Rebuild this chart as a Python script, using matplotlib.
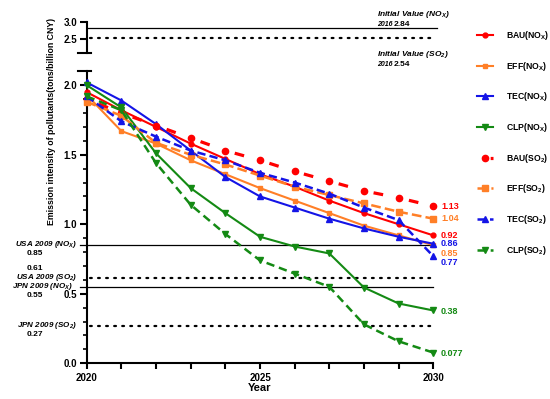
import matplotlib
matplotlib.use('Agg')
import matplotlib.pyplot as plt
from matplotlib.lines import Line2D
from matplotlib.ticker import MultipleLocator

plt.rcParams['font.family'] = ['Liberation Sans', 'DejaVu Sans']
plt.rcParams['font.weight'] = 'bold'
plt.rcParams['mathtext.default'] = 'regular'
plt.rcParams['lines.scale_dashes'] = False

# data
years = list(range(2020, 2031))
bau_nox = [1.95, 1.82, 1.70, 1.58, 1.47, 1.36, 1.27, 1.17, 1.08, 1.00, 0.92]
eff_nox = [1.93, 1.67, 1.58, 1.46, 1.36, 1.26, 1.17, 1.08, 0.99, 0.92, 0.85]
tec_nox = [2.02, 1.89, 1.72, 1.53, 1.34, 1.20, 1.12, 1.04, 0.97, 0.91, 0.86]
clp_nox = [2.00, 1.84, 1.51, 1.26, 1.08, 0.91, 0.84, 0.79, 0.545, 0.43, 0.38]
bau_so2 = [1.90, 1.80, 1.71, 1.62, 1.53, 1.46, 1.38, 1.31, 1.24, 1.19, 1.13]
eff_so2 = [1.88, 1.78, 1.585, 1.50, 1.43, 1.35, 1.27, 1.21, 1.15, 1.09, 1.04]
tec_so2 = [1.92, 1.74, 1.63, 1.53, 1.46, 1.37, 1.30, 1.22, 1.12, 1.03, 0.77]
clp_so2 = [1.92, 1.82, 1.44, 1.14, 0.93, 0.74, 0.645, 0.55, 0.28, 0.158, 0.077]

series_names = ['BAU(NO$_X$)', 'EFF(NO$_X$)', 'TEC(NO$_X$)', 'CLP(NO$_X$)',
                'BAU(SO$_2$)', 'EFF(SO$_2$)', 'TEC(SO$_2$)', 'CLP(SO$_2$)']

end_labels = ['1.13', '1.04', '0.92', '0.86', '0.85', '0.77', '0.38', '0.077']
end_values = [1.13, 1.04, 0.92, 0.86, 0.85, 0.77, 0.38, 0.077]

init_nox = 2.84
init_so2 = 2.54
ref_values = [0.85, 0.61, 0.55, 0.27]
ref_names = ['USA 2009 (NO$_X$)', 'USA 2009 (SO$_2$)', 'JPN 2009 (NO$_X$)', 'JPN 2009 (SO$_2$)']

RED = '#ff0000'
ORANGE = '#ff7f27'
BLUE = '#1414e6'
GREEN = '#148a14'

W, H = 550, 399
fig = plt.figure(figsize=(5.5, 3.99), dpi=100)

def fx(x):
    return x / W

def fy(y):
    return 1 - y / H

ax = fig.add_axes([fx(86.7), fy(363.3), 346.6 / W, 292 / H])
axt = fig.add_axes([fx(86.7), fy(53.3), 346.6 / W, 31.3 / H])

#styles for each series
styles = [
    dict(color=RED, marker='o', ms=3.5, lw=1.5, ls='-'),
    dict(color=ORANGE, marker='s', ms=3.5, lw=1.5, ls='-'),
    dict(color=BLUE, marker='^', ms=4, lw=1.5, ls='-'),
    dict(color=GREEN, marker='v', ms=4, lw=1.5, ls='-'),
    dict(color=RED, marker='o', ms=4.5, lw=2.3, ls=(16.5, (7, 19))),
    dict(color=ORANGE, marker='s', ms=4, lw=1.8, ls=(0, (7, 3))),
    dict(color=BLUE, marker='^', ms=4.5, lw=1.8, ls=(0, (6, 3))),
    dict(color=GREEN, marker='v', ms=4.5, lw=1.8, ls=(0, (6, 3.5))),
]
all_series = [bau_nox, eff_nox, tec_nox, clp_nox, bau_so2, eff_so2, tec_so2, clp_so2]

handles = []
for vals, st, name in zip(all_series, styles, series_names):
    h, = ax.plot(years, vals, color=st['color'], marker=st['marker'], ms=st['ms'],
                 lw=st['lw'], linestyle=st['ls'], dash_capstyle='butt',
                 label=name, clip_on=False, zorder=3)
    handles.append(h)

# reference lines
ref_styles = ['-', (0, (1.3, 4.5)), '-', (0, (1.3, 4.5))]
for v, ls in zip(ref_values, ref_styles):
    if ls == '-':
        ax.axhline(v, xmin=-0.02, xmax=1.0, color='black', lw=0.9, clip_on=False, zorder=1)
    else:
        ax.axhline(v, xmin=0.01, xmax=1.0, color='black', lw=1.6, linestyle=ls,
                   dash_capstyle='round', clip_on=False, zorder=1)
axt.axhline(init_nox, xmin=0, xmax=1.01, color='black', lw=0.9, clip_on=False)
axt.axhline(init_so2, xmin=0.01, xmax=1.0, color='black', lw=1.6, linestyle=(0, (1.3, 4.5)),
            dash_capstyle='round', clip_on=False)

# end labels
end_colors = [RED, ORANGE, RED, BLUE, ORANGE, BLUE, GREEN, GREEN]
end_dy = [0, 0, 0, 0, -6, -4.5, -1, -1]
for lab, v, c, dy in zip(end_labels, end_values, end_colors, end_dy):
    ax.annotate(lab, xy=(2030, v), xytext=(5.5, dy), textcoords='offset points',
                color=c, fontsize=6.5, fontweight='bold', va='center', ha='left')

# axes styling
ax.set_xlim(2020, 2030)
ax.set_ylim(0, 2.1)
axt.set_xlim(2020, 2030)
axt.set_ylim(2.1, 3.0)
for a in (ax, axt):
    a.spines['top'].set_visible(False)
    a.spines['right'].set_visible(False)
    a.spines['left'].set_linewidth(1.5)
axt.spines['bottom'].set_visible(False)
ax.spines['bottom'].set_linewidth(1.5)

ax.set_xticks(years)
ax.set_xticklabels([str(y) if y % 5 == 0 else '' for y in years])
ax.tick_params(axis='x', length=4, width=1.5, labelsize=7, pad=3)
ax.set_yticks([0, 0.5, 1.0, 1.5, 2.0])
ax.set_yticklabels(['0.0', '0.5', '1.0', '1.5', '2.0'])
ax.yaxis.set_minor_locator(MultipleLocator(0.1))
ax.tick_params(axis='y', which='major', length=5, width=1.5, labelsize=7, pad=2)
ax.tick_params(axis='y', which='minor', length=3, width=1.2)

axt.set_xticks([])
axt.set_yticks([2.5, 3.0])
axt.set_yticklabels(['2.5', '3.0'])
axt.tick_params(axis='y', length=5, width=1.5, labelsize=7, pad=2)

# break caps
for yy in (71.3, 53.3):
    fig.add_artist(Line2D([fx(78), fx(91)], [fy(yy), fy(yy)], color='black', lw=1.5))

ax.set_xlabel('Year', fontsize=8, fontweight='bold', labelpad=0)
fig.text(fx(52), fy(121), 'Emission intensity of pollutants(tons/billion CNY)',
         rotation=90, fontsize=6.3, fontweight='bold', ha='center', va='center')

# initial value notes
fig.text(fx(376.7), fy(15), 'Initial Value (NO$_X$)', fontsize=6, style='italic',
         fontweight='bold', va='center')
fig.text(fx(376.7), fy(24), '2016', fontsize=5, style='italic', fontweight='bold', va='center')
fig.text(fx(394), fy(24), '%.2f' % init_nox, fontsize=6, fontweight='bold', va='center')
fig.text(fx(376.7), fy(55), 'Initial Value (SO$_2$)', fontsize=6, style='italic',
         fontweight='bold', va='center')
fig.text(fx(376.7), fy(64), '2016', fontsize=5, style='italic', fontweight='bold', va='center')
fig.text(fx(394), fy(64), '%.2f' % init_so2, fontsize=6, fontweight='bold', va='center')

# reference notes on the left
name_y = [244.3, 277.5, 287, 325.7]
name_x = [77, 77, 73, 77]
for nm, nx, ny in zip(ref_names, name_x, name_y):
    fig.text(fx(nx), fy(ny), nm, fontsize=5.8, style='italic', fontweight='bold',
             ha='right', va='center')
val_y = [253.3, 269, 295.7, 334.3]
for v, vy in zip(ref_values, val_y):
    fig.text(fx(35), fy(vy), '%.2f' % v, fontsize=6, fontweight='bold', ha='center', va='center')

fig.legend(handles=handles, loc='upper left', bbox_to_anchor=(fx(477), fy(29)),
           frameon=False, fontsize=6.2, handlelength=1.9, handletextpad=1.45,
           labelspacing=2.05, borderpad=0, borderaxespad=0, numpoints=1)

fig.savefig('out.png', dpi=100)
